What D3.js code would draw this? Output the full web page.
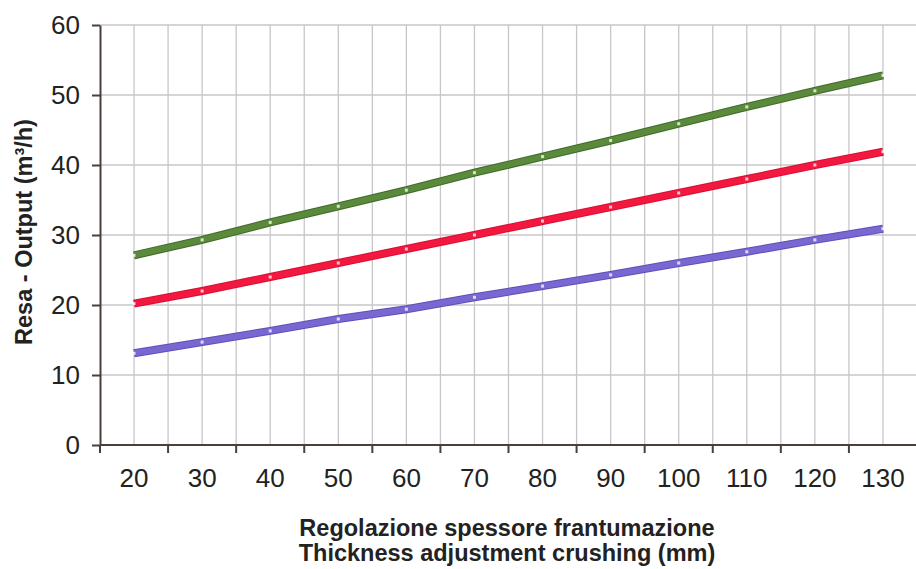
<!DOCTYPE html>
<html lang="it">
<head>
<meta charset="utf-8">
<title>Resa - Output</title>
<script src="https://d3js.org/d3.v7.min.js"></script>
<style>
  body { margin: 0; background: #fff; font-family: "Liberation Sans", Arial, sans-serif; }
  .grid line { stroke: #c9c6c9; stroke-width: 1.3px; }
  .axis path, .axis line { stroke: #4a3f3a; stroke-width: 2px; }
  .axis text { font-size: 26px; fill: #222; font-family: "Liberation Sans", Arial, sans-serif; }
  .title { font-size: 23.5px; font-weight: bold; fill: #222; }
</style>
</head>
<body>
<svg id="chart" width="916" height="569"></svg>
<script>
const thickness = [20, 30, 40, 50, 60, 70, 80, 90, 100, 110, 120, 130];
const greenSeries = [27.1, 29.3, 31.8, 34.1, 36.4, 38.9, 41.2, 43.5, 45.9, 48.3, 50.6, 52.8];
const redSeries   = [20.2, 22.0, 24.0, 26.0, 28.0, 30.0, 32.0, 34.0, 36.0, 38.0, 40.0, 41.9];
const blueSeries  = [13.1, 14.7, 16.3, 18.0, 19.4, 21.1, 22.7, 24.3, 26.0, 27.6, 29.3, 30.9];
const yTicks = [0, 10, 20, 30, 40, 50, 60];

const series = [
  { name: "green", values: greenSeries, color: "#5c8a3c", edge: "#3f6a28" },
  { name: "red",   values: redSeries,   color: "#f2183f", edge: "#d80f35" },
  { name: "blue",  values: blueSeries,  color: "#7a68d2", edge: "#5e4fb8" }
];

const plotLeft = 100, plotRight = 917, plotTop = 25, plotBottom = 445;
const svg = d3.select("#chart");

const x = d3.scaleBand().domain(thickness).range([plotLeft, plotRight]).paddingInner(0).paddingOuter(0);
const y = d3.scaleLinear().domain([0, 60]).range([plotBottom, plotTop]);
const cx = d => x(d) + x.bandwidth() / 2;

// gridlines: horizontal at every y tick, vertical at band centres and band edges
const grid = svg.append("g").attr("class", "grid");
grid.selectAll(".h").data(yTicks.slice(1)).enter().append("line")
  .attr("x1", plotLeft).attr("x2", 916)
  .attr("y1", d => y(d)).attr("y2", d => y(d));
grid.selectAll(".vc").data(thickness).enter().append("line")
  .attr("x1", cx).attr("x2", cx)
  .attr("y1", plotTop).attr("y2", plotBottom);
grid.selectAll(".ve").data(thickness.slice(1)).enter().append("line")
  .attr("x1", d => x(d)).attr("x2", d => x(d))
  .attr("y1", plotTop).attr("y2", plotBottom);

// axes
svg.append("g").attr("class", "axis")
  .attr("transform", `translate(${plotLeft},0)`)
  .call(d3.axisLeft(y).tickValues(yTicks).tickSize(8).tickSizeOuter(0).tickPadding(12));

const xAxis = svg.append("g").attr("class", "axis")
  .attr("transform", `translate(0,${plotBottom})`)
  .call(d3.axisBottom(x).tickSize(0).tickPadding(24));
xAxis.select(".domain").attr("d", `M${plotLeft},0H916`);
xAxis.selectAll(".edge").data(thickness.map(d => x(d)).slice(1).concat([plotLeft])).enter()
  .append("line").attr("class", "edge")
  .attr("x1", d => d).attr("x2", d => d).attr("y1", 0).attr("y2", 8);

// lines
const line = d3.line().x((d, i) => cx(thickness[i])).y(d => y(d));
const lines = svg.append("g");
series.forEach(s => {
  lines.append("path").datum(s.values)
    .attr("fill", "none").attr("stroke", s.edge).attr("stroke-width", 8)
    .attr("d", line);
  lines.append("path").datum(s.values)
    .attr("fill", "none").attr("stroke", s.color).attr("stroke-width", 6)
    .attr("d", line);
  lines.selectAll(null).data(s.values).enter().append("rect")
    .attr("x", (d, i) => cx(thickness[i]) - 1.5)
    .attr("y", d => y(d) - 1.5)
    .attr("width", 3).attr("height", 3)
    .attr("fill", "#fff").attr("opacity", 0.75);
});

// titles
svg.append("text").attr("class", "title")
  .attr("transform", "translate(32,232) rotate(-90)")
  .attr("text-anchor", "middle")
  .text("Resa - Output (m³/h)");
svg.append("text").attr("class", "title")
  .attr("x", 507).attr("y", 536).attr("text-anchor", "middle")
  .text("Regolazione spessore frantumazione");
svg.append("text").attr("class", "title")
  .attr("x", 507).attr("y", 561).attr("text-anchor", "middle")
  .text("Thickness adjustment crushing (mm)");
</script>
</body>
</html>
